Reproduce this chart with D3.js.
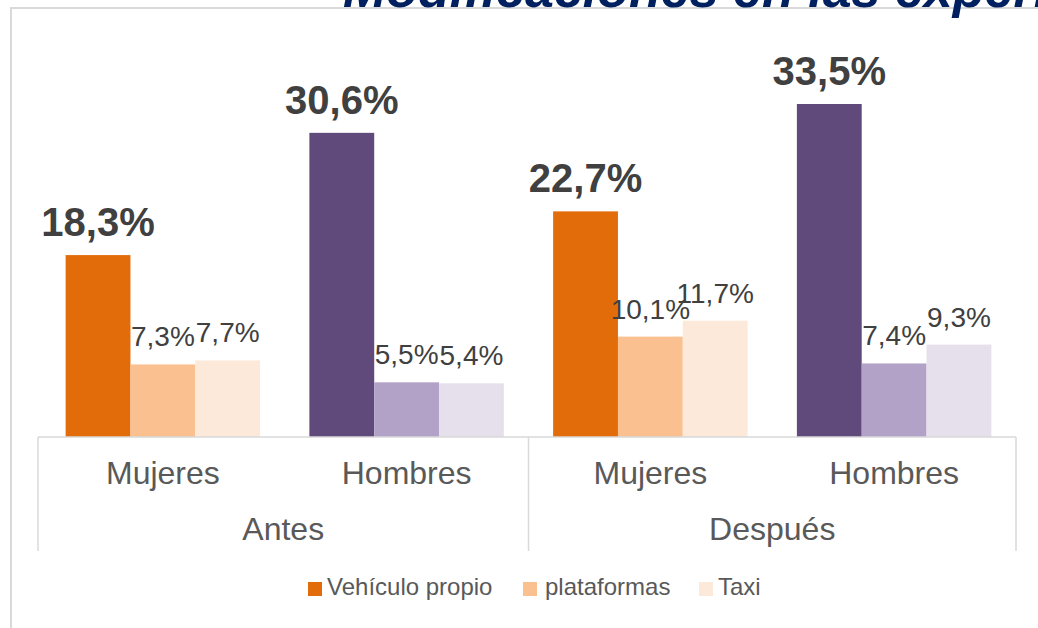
<!DOCTYPE html>
<html lang="es">
<head>
<meta charset="UTF-8">
<title>Modificaciones en las experiencias</title>
<script src="https://cdnjs.cloudflare.com/ajax/libs/d3/7.8.5/d3.min.js"></script>
<style>
    body { margin: 0; background: #fff; }
    svg { display: block; font-family: "Liberation Sans", Arial, sans-serif; }
    .frame { fill: none; stroke: #d9d9d9; stroke-width: 2; }
    .axis-line { stroke: #d9d9d9; stroke-width: 1.5; }
    .big { font-size: 40px; font-weight: bold; fill: #404040; }
    .small { font-size: 28px; fill: #404040; }
    .cat { font-size: 32px; fill: #595959; }
    .legend text { font-size: 24px; fill: #595959; }
</style>
</head>
<body>
<div id="chart"></div>
<script>
    // data
    const groups = ["Antes", "Después"];
    const genders = ["Mujeres", "Hombres"];
    const series = ["Vehículo propio", "plataformas", "Taxi"];
    const vehiculo = [18.3, 30.6, 22.7, 33.5];
    const plataformas = [7.3, 5.5, 10.1, 7.4];
    const taxi = [7.7, 5.4, 11.7, 9.3];
    const values = [vehiculo, plataformas, taxi];

    const orangeShades = ["#e36c0a", "#fac090", "#fde9d9"];
    const purpleShades = ["#604a7b", "#b3a2c7", "#e6e0ec"];

    const width = 1038, height = 628;
    const baseY = 437, left = 38, right = 1016;

    const svg = d3.select("#chart").append("svg")
        .attr("width", width)
        .attr("height", height);

    // slide frame + cut-off title
    svg.append("path")
        .attr("class", "frame")
        .attr("d", `M11,628 V8 H${width}`);

    svg.append("text")
        .attr("x", 343)
        .attr("y", 7)
        .attr("fill", "#002060")
        .attr("font-size", 52)
        .attr("font-weight", "bold")
        .attr("font-style", "italic")
        .text("Modificaciones en las experiencias");

    const cats = [];
    groups.forEach(g => genders.forEach(s => cats.push(g + "|" + s)));

    // bars sit a few px right of the left axis edge
    const x0 = d3.scaleBand().domain(cats).range([left + 3, right]);
    const x1 = d3.scaleBand().domain(series).range([0, x0.bandwidth()]).paddingOuter(0.38);
    const y = d3.scaleLinear().domain([0, 40]).range([baseY, baseY - 9.94 * 40]);

    const fmt = v => d3.format(".1f")(v).replace(".", ",") + "%";

    const rows = [];
    cats.forEach((c, i) => {
        series.forEach((s, j) => {
            rows.push({ cat: c, serie: s, j: j, value: values[j][i],
                color: (i % 2 === 0 ? orangeShades : purpleShades)[j] });
        });
    });

    const chart = svg.append("g");

    chart.selectAll("rect.bar")
        .data(rows)
        .enter().append("rect")
        .attr("class", "bar")
        .attr("x", d => x0(d.cat) + x1(d.serie))
        .attr("width", x1.bandwidth())
        .attr("y", d => y(d.value))
        .attr("height", d => y(0) - y(d.value))
        .attr("fill", d => d.color);

    chart.selectAll("text.lbl")
        .data(rows)
        .enter().append("text")
        .attr("class", d => d.j === 0 ? "lbl big" : "lbl small")
        .attr("x", d => x0(d.cat) + x1(d.serie) + x1.bandwidth() / 2)
        .attr("y", d => y(d.value) - (d.j === 0 ? 19 : 18))
        .attr("text-anchor", "middle")
        .text(d => fmt(d.value));

    // two-level category axis
    const axis = svg.append("g");
    axis.append("line").attr("class", "axis-line")
        .attr("x1", left).attr("x2", right)
        .attr("y1", baseY).attr("y2", baseY);

    const groupEdges = [left, x0(groups[1] + "|" + genders[0]), right];
    axis.selectAll("line.sep")
        .data(groupEdges)
        .enter().append("line")
        .attr("class", "axis-line sep")
        .attr("x1", d => d).attr("x2", d => d)
        .attr("y1", baseY).attr("y2", 551);

    axis.selectAll("text.sub")
        .data(cats)
        .enter().append("text")
        .attr("class", "cat sub")
        .attr("x", d => x0(d) + x0.bandwidth() / 2)
        .attr("y", 484)
        .attr("text-anchor", "middle")
        .text(d => d.split("|")[1]);

    axis.selectAll("text.grp")
        .data(groups)
        .enter().append("text")
        .attr("class", "cat grp")
        .attr("x", (g, i) => (groupEdges[i] + groupEdges[i + 1]) / 2)
        .attr("y", 540)
        .attr("text-anchor", "middle")
        .text(g => g);

    // legend
    const legendX = [308, 523, 699];
    const legend = svg.append("g").attr("class", "legend");
    const item = legend.selectAll("g")
        .data(series)
        .enter().append("g")
        .attr("transform", (d, i) => `translate(${legendX[i]},582)`);
    item.append("rect")
        .attr("width", 14).attr("height", 14)
        .attr("fill", (d, i) => orangeShades[i]);
    item.append("text")
        .attr("x", (d, i) => i === 1 ? 22 : 19)
        .attr("y", 13)
        .text(d => d);
</script>
</body>
</html>
